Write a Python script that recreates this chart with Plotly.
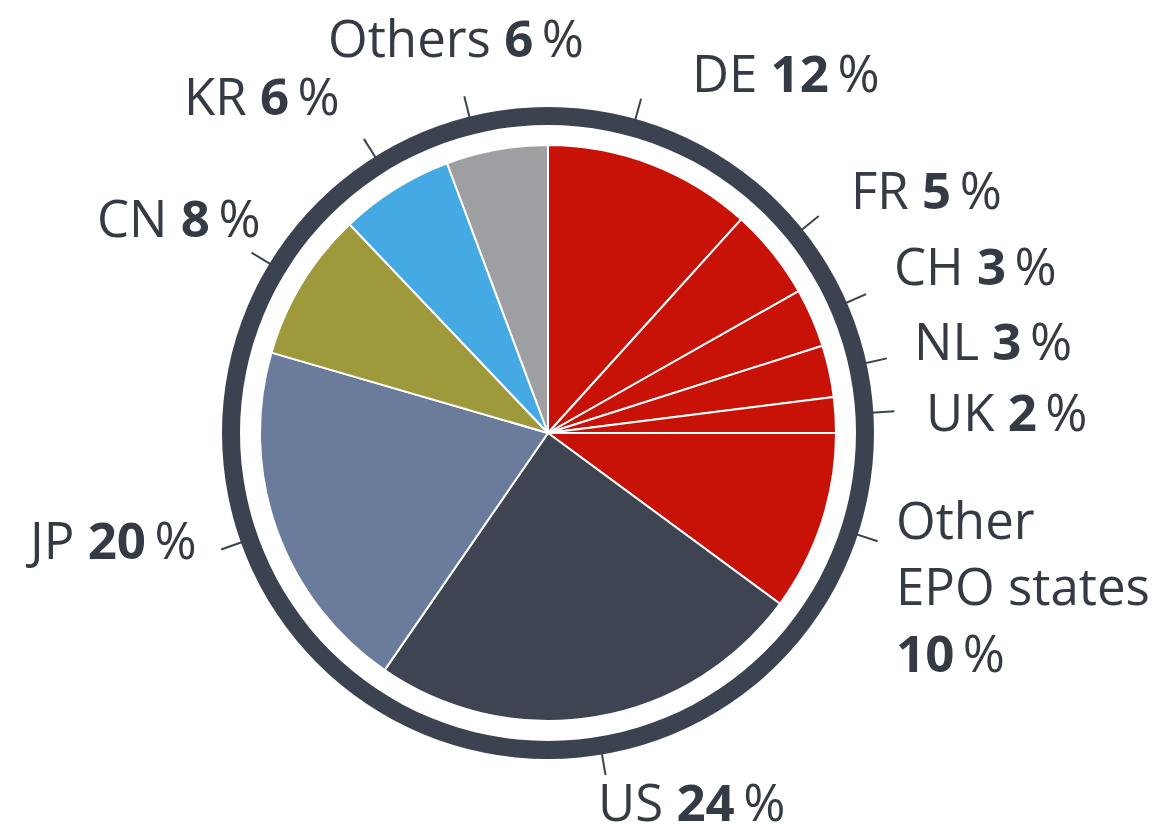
import math
import plotly.graph_objects as go

# ---------------- data ----------------
countries = ["DE", "FR", "CH", "NL", "UK", "Other<br>EPO states", "US", "JP", "CN", "KR", "Others"]
shares = [11.7, 5.1, 3.3, 2.9, 2.0, 10.1, 24.5, 19.9, 8.4, 6.4, 5.7]      # slice sizes
shown_pct = [12, 5, 3, 3, 2, 10, 24, 20, 8, 6, 6]                          # printed (rounded) percentages
slice_colors = ["#C81208", "#C81208", "#C81208", "#C81208", "#C81208", "#C81208",
                "#3E4451", "#6A7B9C", "#9E9A3C", "#45A9E4", "#9D9FA3"]

# ---------------- layout config ----------------
W, H = 1170, 840
CX, CY = 548, 433          # pie centre, px
R_PIE = 288
R_RING_IN, R_RING_OUT = 308, 326
R_TICK_IN, R_TICK_OUT = 320, 347
RING_COLOR = "#3B4250"
TEXT_COLOR = "#353B45"
FONT = "Open Sans"
FS = 51

# small hand adjustments of tick angle (degrees) and label placement (anchor, dx, dy in px)
angle_adjust = {0: -5.5, 10: -3.7}
label_place = {
    0: ("left", 49, -27),
    1: ("left", 30, -27),
    2: ("left", 26, -29),
    3: ("left", 25, -18),
    4: ("left", 30, 0),
    5: ("left", 16, 44),
    6: ("left", -10, 26),
    7: ("right", -22, -11),
    8: ("right", 11, -36),
    9: ("right", -22, -44),
    10: ("center", -8, -59),
}


def px(x):
    return x / W


def py(y):
    return 1 - y / H


def domain(r):
    return dict(x=[px(CX - r), px(CX + r)], y=[py(CY + r), py(CY - r)])


fig = go.Figure()

# outer ring
fig.add_trace(go.Pie(
    values=[1], hole=R_RING_IN / R_RING_OUT, sort=False,
    marker=dict(colors=[RING_COLOR], line=dict(width=0)),
    textinfo="none", hoverinfo="skip", domain=domain(R_RING_OUT), showlegend=False,
))

# main pie
fig.add_trace(go.Pie(
    labels=[c.replace("<br>", " ") for c in countries], values=shares, sort=False,
    direction="clockwise", rotation=0,
    marker=dict(colors=slice_colors, line=dict(color="white", width=2)),
    textinfo="none", domain=domain(R_PIE), showlegend=False,
))

# ticks and labels
total = sum(shares)
cum = 0.0
shapes, annots = [], []
for i, (name, v, pct) in enumerate(zip(countries, shares, shown_pct)):
    mid = (cum + v / 2) / total * 360.0
    cum += v
    ang = math.radians(mid + angle_adjust.get(i, 0.0))
    s, c = math.sin(ang), math.cos(ang)
    x0, y0 = CX + R_TICK_IN * s, CY - R_TICK_IN * c
    x1, y1 = CX + R_TICK_OUT * s, CY - R_TICK_OUT * c
    shapes.append(dict(type="line", xref="paper", yref="paper",
                       x0=px(x0), y0=py(y0), x1=px(x1), y1=py(y1),
                       line=dict(color=RING_COLOR, width=2)))
    anchor, dx, dy = label_place[i]
    if "<br>" in name:
        txt = f"{name}<br><b>{pct}</b>\u2009%"
    else:
        txt = f"{name} <b>{pct}</b>\u2009%"
    annots.append(dict(xref="paper", yref="paper", x=px(x1 + dx), y=py(y1 + dy),
                       text=txt, showarrow=False, xanchor=anchor, yanchor="middle",
                       align="left", font=dict(family=FONT, size=FS, color=TEXT_COLOR)))

fig.update_layout(
    width=W, height=H, margin=dict(l=0, r=0, t=0, b=0),
    paper_bgcolor="white", plot_bgcolor="white",
    shapes=shapes, annotations=annots,
)

fig.write_html("out.html", config={"displayModeBar": False},
               post_script="document.body.style.margin='0px';")
